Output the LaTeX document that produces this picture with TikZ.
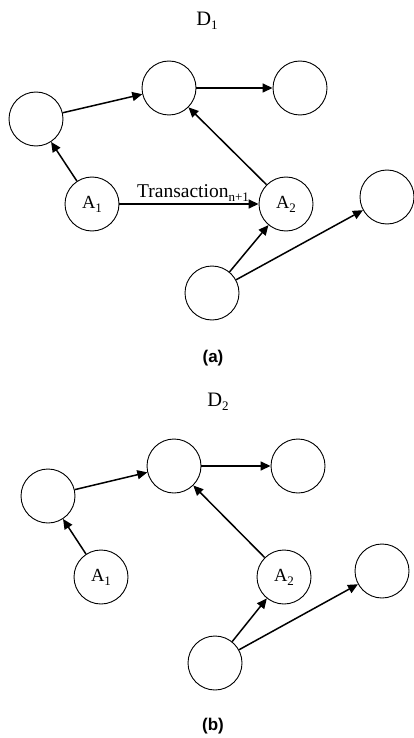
\documentclass[tikz,border=0pt]{standalone}
\usepackage{fontspec}
\setmainfont{Liberation Serif}
\newfontfamily\capfont{Liberation Sans}
\usetikzlibrary{arrows.meta}
\newcommand{\subidx}[1]{\raisebox{-4pt}{\fontsize{13}{14}\selectfont #1}}
\begin{document}
\begin{tikzpicture}[x=1pt, y=-1pt, font=\fontsize{18.5}{21}\selectfont,
  vertex/.style={draw, circle, line width=0.9pt, minimum size=54pt, inner sep=0pt},
  edge/.style={-{Triangle[length=10pt, width=9pt]}, line width=1.5pt},
  title/.style={font=\fontsize{20.5}{23}\selectfont},
  caption/.style={font=\capfont\bfseries\fontsize{17}{20}\selectfont}]
  \useasboundingbox (0,0) rectangle (413,738);
  % (a)
  \node[title] (d1) at (207,21) {D\subidx{1}};
  \node[vertex] (l1) at (36,119) {};
  \node[vertex] (t1) at (169,88) {};
  \node[vertex] (r1) at (300,88) {};
  \node[vertex] (a11) at (92,204) {A\subidx{1}};
  \node[vertex] (a21) at (286,204) {A\subidx{2}};
  \node[vertex] (f1) at (387,197) {};
  \node[vertex] (b1) at (212,293) {};
  \draw[edge] (l1) -- (t1);
  \draw[edge] (t1) -- (r1);
  \draw[edge] (a11) -- (l1);
  \draw[edge] (a11) -- node[above, yshift=-2pt, xshift=4pt, font=\fontsize{19.5}{22}\selectfont] {Transaction\subidx{n+1}} (a21);
  \draw[edge] (a21) -- (t1);
  \draw[edge] (b1) -- (a21);
  \draw[edge] (b1) -- (f1);
  \node[caption] (capa) at (213,358) {(a)};
  % (b)
  \node[title] (d2) at (218,402) {D\subidx{2}};
  \node[vertex] (l2) at (48,496) {};
  \node[vertex] (t2) at (174,466) {};
  \node[vertex] (r2) at (298,466) {};
  \node[vertex] (a12) at (101,577) {A\subidx{1}};
  \node[vertex] (a22) at (284,577) {A\subidx{2}};
  \node[vertex] (f2) at (382,571) {};
  \node[vertex] (b2) at (215,663) {};
  \draw[edge] (l2) -- (t2);
  \draw[edge] (t2) -- (r2);
  \draw[edge] (a12) -- (l2);
  \draw[edge] (a22) -- (t2);
  \draw[edge] (b2) -- (a22);
  \draw[edge] (b2) -- (f2);
  \node[caption] (capb) at (213,726) {(b)};
\end{tikzpicture}
\end{document}
